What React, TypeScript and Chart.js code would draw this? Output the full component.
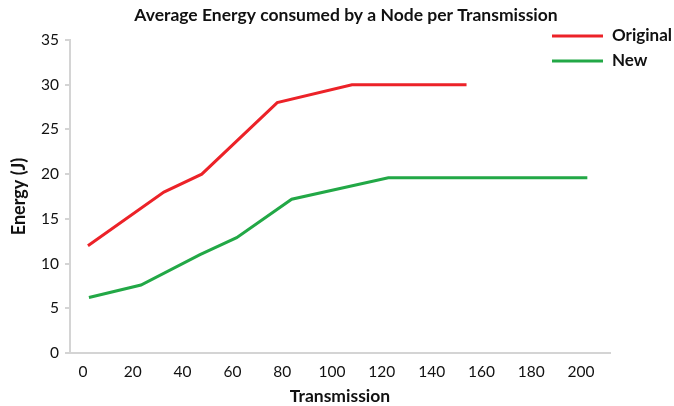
import React, { useEffect, useRef } from "react";
import { Chart, registerables } from "chart.js";

Chart.register(...registerables);

const titleText = "Average Energy consumed by a Node per Transmission";
const xTitle = "Transmission";
const yTitle = "Energy (J)";
const xTicks = [0, 20, 40, 60, 80, 100, 120, 140, 160, 180, 200];
const seriesNames = ["Original", "New"];
const originalX = [2, 32.5, 47.7, 78, 108, 154];
const originalY = [12, 18, 20, 28, 30, 30];
const newX = [2.4, 23.3, 47, 61.7, 83.8, 122.6, 202.5];
const newY = [6.2, 7.6, 11, 12.9, 17.2, 19.6, 19.6];

const RED = "#ec2228";
const GREEN = "#22a846";
const AXIS = "#d4d4d4";
const FONT = "Lato, 'Open Sans', sans-serif";

const overlayPlugin = {
  id: "overlay",
  afterDraw(chart: any) {
    const ctx = chart.ctx;
    ctx.save();
    ctx.fillStyle = "#111";
    ctx.font = `bold 17.5px ${FONT}`;
    ctx.textBaseline = "middle";
    ctx.textAlign = "center";
    ctx.fillText(titleText, 346, 15);
    chart.data.datasets.forEach((ds: any, i: number) => {
      const y = 36 + i * 25;
      ctx.strokeStyle = ds.borderColor;
      ctx.lineWidth = 3;
      ctx.beginPath();
      ctx.moveTo(552, y);
      ctx.lineTo(603, y);
      ctx.stroke();
      ctx.fillStyle = "#111";
      ctx.font = `bold 17px ${FONT}`;
      ctx.textBaseline = "middle";
      ctx.textAlign = "left";
      ctx.fillText(ds.label, 612, y);
    });
    ctx.restore();
  },
};

export default function App() {
  const ref = useRef<HTMLCanvasElement>(null);
  useEffect(() => {
    if (!ref.current) return;
    const chart = new Chart(ref.current, {
      type: "line",
      data: {
        datasets: [
          {
            label: seriesNames[0],
            data: originalX.map((x, i) => ({ x, y: originalY[i] })),
            borderColor: RED,
            backgroundColor: RED,
            borderWidth: 3,
            pointRadius: 0,
            tension: 0,
          },
          {
            label: seriesNames[1],
            data: newX.map((x, i) => ({ x, y: newY[i] })),
            borderColor: GREEN,
            backgroundColor: GREEN,
            borderWidth: 3,
            pointRadius: 0,
            tension: 0,
          },
        ],
      },
      options: {
        animation: false,
        responsive: false,
        maintainAspectRatio: false,
        layout: { padding: { left: 0, right: 64, top: 40, bottom: 0 } },
        plugins: {
          legend: { display: false },
          tooltip: { enabled: false },
          title: { display: false },
        },
        scales: {
          x: {
            type: "linear",
            min: -5.2,
            max: 211.6,
            afterBuildTicks: (axis: any) => {
              axis.ticks = xTicks.map((v) => ({ value: v }));
            },
            afterFit: (axis: any) => {
              axis.height = 53;
            },
            grid: { display: true, drawOnChartArea: false, drawTicks: false },
            border: { display: true, color: AXIS, width: 2 },
            ticks: {
              color: "#111",
              font: { family: FONT, size: 15.5 },
              padding: 10,
              maxRotation: 0,
              autoSkip: false,
            },
            title: {
              display: true,
              text: xTitle,
              color: "#111",
              font: { family: FONT, size: 17.5, weight: "bold" },
              padding: { top: 0, bottom: -1 },
            },
          },
          y: {
            min: 0,
            max: 35,
            afterFit: (axis: any) => {
              axis.width = 70;
            },
            ticks: {
              stepSize: 5,
              color: "#111",
              font: { family: FONT, size: 15.5 },
              padding: 6,
            },
            grid: {
              display: true,
              drawOnChartArea: false,
              drawTicks: true,
              tickLength: 5,
              color: AXIS,
              lineWidth: 2,
            },
            border: { display: true, color: AXIS, width: 2 },
            title: {
              display: true,
              text: yTitle,
              color: "#111",
              font: { family: FONT, size: 18, weight: "bold" },
              padding: { top: 8, bottom: 0 },
            },
          },
        },
      },
      plugins: [overlayPlugin],
    });
    return () => chart.destroy();
  }, []);
  return (
    <div style={{ position: "fixed", left: 0, top: 0, width: 674, height: 406, background: "#fff" }}>
      <canvas ref={ref} width={674} height={406} style={{ width: 674, height: 406 }} />
    </div>
  );
}
